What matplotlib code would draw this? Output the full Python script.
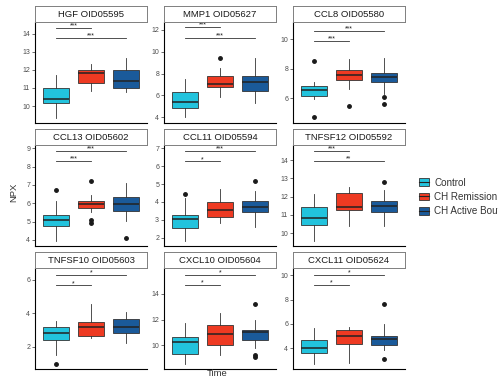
import numpy as np
import matplotlib.pyplot as plt
from matplotlib.patches import Patch
from matplotlib.lines import Line2D

plt.rcParams['font.family'] = ['Liberation Sans', 'DejaVu Sans']

# panel titles and groups
titles = ["HGF OID05595", "MMP1 OID05627", "CCL8 OID05580",
          "CCL13 OID05602", "CCL11 OID05594", "TNFSF12 OID05592",
          "TNFSF10 OID05603", "CXCL10 OID05604", "CXCL11 OID05624"]
groups = ["Control", "CH Remission", "CH Active Bout"]
colors = ["#22C3DD", "#EE3A22", "#1A5A9A"]

# box statistics per panel, one value per group
q1 = [[10.15, 11.25, 11.0], [4.83, 6.75, 6.44], [6.16, 7.24, 7.08],
      [4.77, 5.75, 5.6], [2.56, 3.13, 3.41], [10.46, 11.27, 11.14],
      [2.41, 2.65, 2.85], [9.30, 10.0, 10.41], [3.59, 4.33, 4.27]]
med = [[10.38, 11.83, 11.38], [5.38, 7.05, 7.27], [6.56, 7.58, 7.42],
       [5.10, 5.97, 5.97], [3.04, 3.56, 3.69], [10.81, 11.45, 11.51],
       [2.81, 3.18, 3.2], [10.28, 10.85, 11.03], [4.05, 5.01, 4.74]]
q3 = [[11.0, 12.02, 11.97], [6.29, 7.79, 7.82], [6.83, 7.92, 7.74],
      [5.38, 6.15, 6.37], [3.27, 4.02, 4.03], [11.45, 12.19, 11.78],
      [3.18, 3.5, 3.67], [10.67, 11.57, 11.16], [4.66, 5.5, 5.01]]
whis_lo = [[9.33, 10.85, 10.8], [4.0, 5.89, 5.28], [5.93, 6.61, 6.3],
           [3.94, 5.55, 5.05], [1.81, 2.81, 2.6], [9.57, 10.4, 10.4],
           [1.53, 2.51, 2.22], [8.53, 9.22, 9.81], [2.69, 2.77, 3.84]]
whis_hi = [[11.7, 12.3, 12.65], [7.54, 8.55, 9.41], [7.1, 8.66, 8.75],
           [6.10, 6.43, 7.13], [4.23, 4.73, 4.64], [12.12, 12.52, 12.39],
           [3.54, 4.53, 4.07], [11.7, 12.53, 11.94], [5.69, 5.75, 5.97]]
outliers = [[[], [], []], [[], [9.41], []], [[8.53, 4.72], [5.48], [6.12, 5.59]],
            [[6.70], [7.2, 5.09, 4.95], [4.09]], [[4.45], [], [5.15]], [[], [], [12.83]],
            [[0.98], [], []], [[], [], [13.18, 9.25, 9.09]], [[], [], [7.66, 3.1]]]

# significance brackets: Control vs Remission (12) and Control vs Active (13)
sig_y12 = [14.3, 12.25, 9.9, 8.3, 6.27, 14.49, 5.65, 14.73, 9.24]
sig_y13 = [13.75, 11.3, 10.57, 8.85, 6.84, 13.94, 6.26, 15.5, 10.06]
sig_lab12 = ["***", "***", "***", "***", "*", "***", "*", "*", "*"]
sig_lab13 = ["***", "***", "***", "***", "***", "**", "*", "*", "*"]

# axis ranges and ticks
ylims = [(9.06, 14.65), (3.48, 12.73), (4.33, 11.17), (3.67, 9.18), (1.53, 7.19),
         (9.3, 14.83), (0.68, 6.69), (8.14, 16.02), (2.28, 10.6)]
yticks = [[10, 11, 12, 13, 14], [4, 6, 8, 10, 12], [6, 8, 10], [4, 5, 6, 7, 8, 9],
          [2, 3, 4, 5, 6, 7], [10, 11, 12, 13, 14], [2, 4, 6], [10, 12, 14], [4, 6, 8, 10]]

W, H = 498, 378
fig = plt.figure(figsize=(W / 100, H / 100), dpi=100)

col_left = [35, 164, 293]
pw = 112

for i in range(9):
    r, c = divmod(i, 3)
    top = 22 + 123 * r
    bot = 123 + 123 * r
    ax = fig.add_axes([col_left[c] / W, 1 - bot / H, pw / W, (bot - top) / H])
    sax = fig.add_axes([col_left[c] / W, 1 - top / H, pw / W, 16 / H])

    stats = []
    for g in range(3):
        stats.append(dict(q1=q1[i][g], med=med[i][g], q3=q3[i][g],
                          whislo=whis_lo[i][g], whishi=whis_hi[i][g],
                          fliers=outliers[i][g]))
    bp = ax.bxp(stats, positions=[1, 2, 3], widths=0.75, patch_artist=True,
                showcaps=False,
                boxprops=dict(edgecolor="#333333", linewidth=0.6),
                medianprops=dict(color="#222222", linewidth=1.1),
                whiskerprops=dict(color="#333333", linewidth=0.6),
                flierprops=dict(marker="o", markersize=2.5, markerfacecolor="#1A1A1A",
                                markeredgecolor="#1A1A1A"))
    for patch, col in zip(bp["boxes"], colors):
        patch.set_facecolor(col)

    # brackets
    for (x0, x1), y, lab in [((1, 2), sig_y12[i], sig_lab12[i]),
                             ((1, 3), sig_y13[i], sig_lab13[i])]:
        ax.plot([x0, x1], [y, y], color="#333333", lw=0.6)
        ax.annotate(lab, xy=((x0 + x1) / 2, y), xytext=(0, 1.4),
                    textcoords="offset points", ha="center", va="center",
                    fontsize=5, color="#1A1A1A")

    ax.set_xlim(0.4, 3.6)
    ax.set_ylim(*ylims[i])
    ax.set_yticks(yticks[i])
    ax.set_xticks([])
    ax.tick_params(axis="y", length=2, width=0.5, color="#333333",
                   labelsize=5, labelcolor="#4D4D4D", pad=1.5)
    for s in ["top", "right"]:
        ax.spines[s].set_visible(False)
    ax.spines["left"].set_linewidth(0.8)
    ax.spines["bottom"].set_linewidth(0.8)

    sax.set_xticks([])
    sax.set_yticks([])
    for s in sax.spines.values():
        s.set_color("#7F7F7F")
        s.set_linewidth(0.7)
    sax.text(0.5, 0.45, titles[i], ha="center", va="center",
             fontsize=6.8, color="#1A1A1A", transform=sax.transAxes)

# legend keys drawn as little boxes with a median line
handles = [(Patch(facecolor=col, edgecolor="#333333", linewidth=0.6),
            Line2D([], [], color="#222222", linewidth=0.8)) for col in colors]
fig.legend(handles, groups, loc="center left",
           bbox_to_anchor=(410 / W, 1 - 197 / H), frameon=False,
           fontsize=7.1, handlelength=1.0, handleheight=0.8,
           handletextpad=0.55, labelspacing=0.45, labelcolor="#333333")

fig.text(14 / W, 1 - 192 / H, "NPX", rotation=90, ha="center", va="center",
         fontsize=6.8, color="#333333")
fig.text(217 / W, 1 - 373 / H, "Time", ha="center", va="center",
         fontsize=6.8, color="#333333")

fig.savefig("out.png", dpi=100)
